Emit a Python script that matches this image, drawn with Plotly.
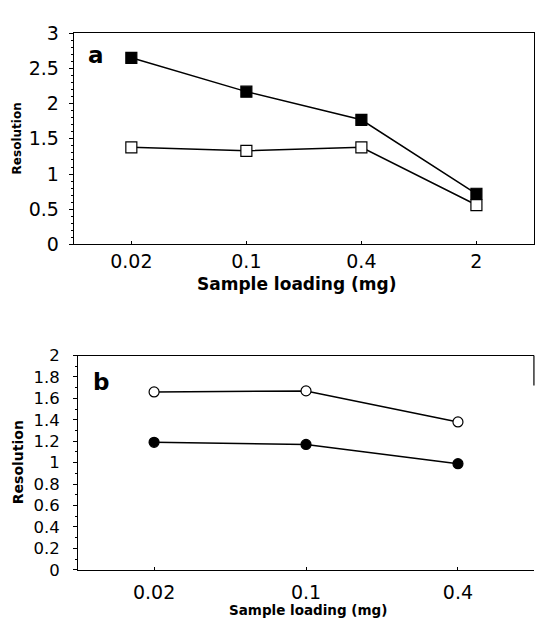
import plotly.graph_objects as go

# panel a
loading_a = ["0.02", "0.1", "0.4", "2"]
res_a_filled = [2.65, 2.17, 1.77, 0.72]
res_a_open = [1.38, 1.33, 1.38, 0.56]
yticks_a = [0, 0.5, 1, 1.5, 2, 2.5, 3]

# panel b
loading_b = ["0.02", "0.1", "0.4"]
res_b_open = [1.66, 1.67, 1.38]
res_b_filled = [1.19, 1.17, 0.99]
yticks_b = [0, 0.2, 0.4, 0.6, 0.8, 1, 1.2, 1.4, 1.6, 1.8, 2]

FONT = "DejaVu Sans, Arial, sans-serif"
W, H = 535, 630

fig = go.Figure()

def add_series(x, y, symbol, fill, xa, ya, size):
    fig.add_trace(go.Scatter(
        x=x, y=y, mode="lines+markers", xaxis=xa, yaxis=ya,
        line=dict(color="black", width=1.5),
        marker=dict(symbol=symbol, size=size, color=fill,
                    line=dict(color="black", width=1.2)),
        showlegend=False))

add_series(loading_a, res_a_filled, "square", "black", "x", "y", 11)
add_series(loading_a, res_a_open, "square", "white", "x", "y", 11)
add_series(loading_b, res_b_open, "circle", "white", "x2", "y2", 10)
add_series(loading_b, res_b_filled, "circle", "black", "x2", "y2", 10)

axis_common = dict(showline=True, linecolor="black", linewidth=1.2,
                   showgrid=False, zeroline=False, tickcolor="black")

fig.update_layout(
    width=W, height=H,
    margin=dict(l=0, r=0, t=0, b=0),
    paper_bgcolor="white", plot_bgcolor="white",
    xaxis=dict(axis_common, domain=[0.138, 0.998], anchor="y", type="category",
               mirror=True, ticks="inside", ticklen=3,
               range=[-0.5, 3.5], categoryorder="array", categoryarray=loading_a,
               tickfont=dict(family=FONT, size=19, color="black")),
    yaxis=dict(axis_common, domain=[0.616, 0.9635], anchor="x", range=[0, 3],
               mirror=True, ticks="outside", ticklen=4,
               tickvals=yticks_a, ticktext=[f"{v:g}" for v in yticks_a],
               tickfont=dict(family=FONT, size=19, color="black"),
               ticklabelstandoff=6,
               minor=dict(dtick=0.1, ticks="outside", ticklen=2, tickcolor="black")),
    xaxis2=dict(axis_common, domain=[0.146, 0.998], anchor="y2", type="category",
                mirror=True, ticks="inside", ticklen=3,
                range=[-0.5, 2.5], categoryorder="array", categoryarray=loading_b,
                tickfont=dict(family=FONT, size=19, color="black"),
                ticklabelstandoff=5),
    yaxis2=dict(axis_common, domain=[0.081, 0.4333], anchor="x2", range=[0, 2],
                mirror=False, ticks="outside", ticklen=4,
                tickvals=yticks_b, ticktext=[f"{v:g}" for v in yticks_b],
                tickfont=dict(family=FONT, size=16.5, color="black"),
                ticklabelstandoff=10,
                minor=dict(dtick=0.1, ticks="outside", ticklen=2, tickcolor="black")),
)

# short stub of the right border that survives on panel b
fig.add_shape(type="line", xref="x2 domain", yref="y2 domain", x0=1, x1=1, y0=0.86, y1=1,
              line=dict(color="black", width=1.2))

def label(text, x, y, size, angle=0, xanchor="center"):
    fig.add_annotation(text=text, xref="paper", yref="paper", x=x / W, y=1 - y / H,
                       xanchor=xanchor, yanchor="middle", showarrow=False, textangle=angle,
                       font=dict(family=FONT, size=size, color="black"))

# axis titles
label("<b>Sample loading (mg)</b>", 296, 283, 17)
label("<b>Sample loading (mg)</b>", 308, 621, 13.5)
label("<b>Resolution</b>", 17, 132, 12, angle=-90)
label("<b>Resolution</b>", 17.5, 468, 14, angle=-90)

# panel letters
label("<b>a</b>", 86, 46, 23, xanchor="left")
label("<b>b</b>", 91, 384, 23, xanchor="left")

# drop the default page margin so the figure sits at the window's corner
fig.write_html("out.html", config={"displayModeBar": False},
               post_script="document.body.style.margin='0';"
                           "document.body.style.overflow='hidden';")
